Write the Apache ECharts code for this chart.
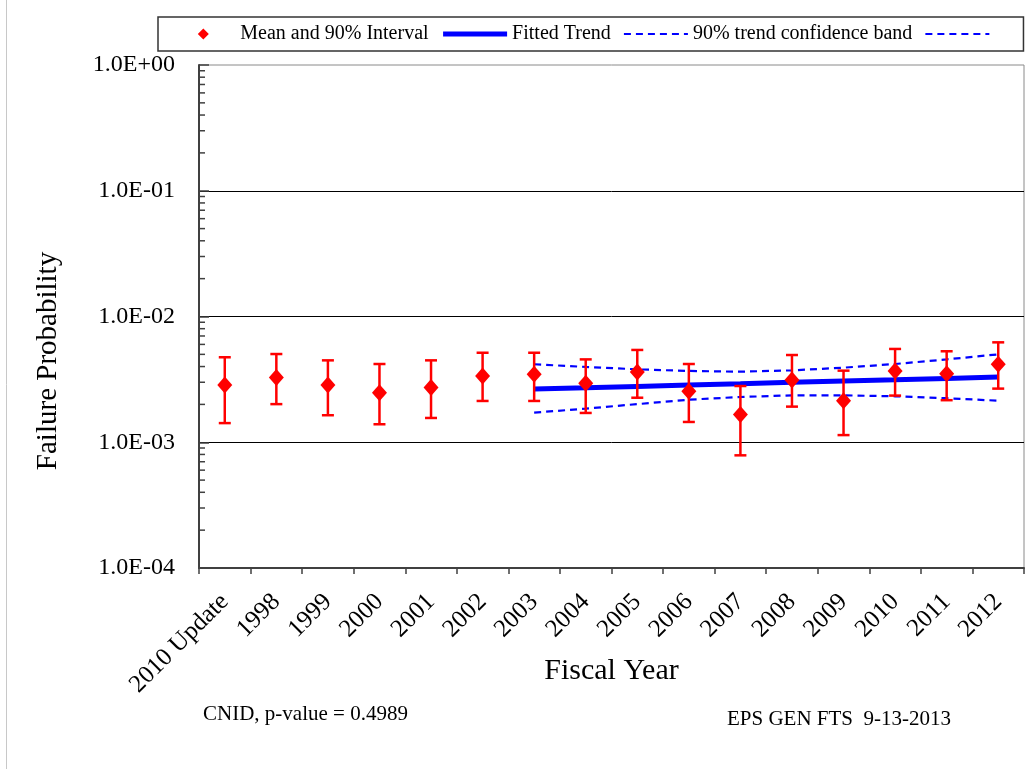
<!DOCTYPE html>
<html>
<head>
<meta charset="utf-8">
<script src="https://cdn.jsdelivr.net/npm/echarts@6/dist/echarts.min.js"></script>
<style>html,body{margin:0;padding:0;background:#fff}#chart{width:1034px;height:769px}</style>
</head>
<body>
<div id="chart"></div>
<script>
const categories = ['2010 Update','1998','1999','2000','2001','2002','2003','2004','2005','2006','2007','2008','2009','2010','2011','2012'];
const meanValues = [2.85e-3, 3.28e-3, 2.85e-3, 2.48e-3, 2.72e-3, 3.36e-3, 3.47e-3, 2.94e-3, 3.62e-3, 2.54e-3, 1.66e-3, 3.13e-3, 2.14e-3, 3.69e-3, 3.51e-3, 4.17e-3];
const lowerValues = [1.42e-3, 2.01e-3, 1.64e-3, 1.39e-3, 1.56e-3, 2.13e-3, 2.13e-3, 1.71e-3, 2.26e-3, 1.45e-3, 7.87e-4, 1.92e-3, 1.14e-3, 2.35e-3, 2.16e-3, 2.67e-3];
const upperValues = [4.74e-3, 5.03e-3, 4.48e-3, 4.19e-3, 4.48e-3, 5.15e-3, 5.15e-3, 4.56e-3, 5.42e-3, 4.19e-3, 2.80e-3, 4.94e-3, 3.71e-3, 5.52e-3, 5.29e-3, 6.23e-3];
const trendValues = [null, null, null, null, null, null, 2.65e-3, 2.71e-3, 2.78e-3, 2.85e-3, 2.92e-3, 3.00e-3, 3.07e-3, 3.14e-3, 3.22e-3, 3.30e-3];
const bandUpper = [null, null, null, null, null, null, 4.17e-3, 3.97e-3, 3.80e-3, 3.69e-3, 3.64e-3, 3.73e-3, 3.92e-3, 4.19e-3, 4.56e-3, 5.00e-3];
const bandLower = [null, null, null, null, null, null, 1.72e-3, 1.85e-3, 2.01e-3, 2.18e-3, 2.29e-3, 2.36e-3, 2.36e-3, 2.32e-3, 2.24e-3, 2.14e-3];
const yTickLabels = ['1.0E-04', '1.0E-03', '1.0E-02', '1.0E-01', '1.0E+00'];
const minorMultipliers = [2, 3, 4, 5, 6, 7, 8, 9];
const decades = [1e-4, 1e-3, 1e-2, 1e-1];

const FONT = 'Liberation Serif';
const chart = echarts.init(document.getElementById('chart'));

const errData = categories.map((c, i) => [i, lowerValues[i], upperValues[i]]);
const minorData = [];
decades.forEach(d => minorMultipliers.forEach(m => minorData.push([0, d * m])));

// legend diamond: tiny anchor specks at the corners keep the diamond from being stretched
const legendDiamond = 'path://M0,0L0.01,0L0.01,0.01Z M64,11L63.99,11L63.99,10.99Z M26,5.5L32,-0.5L38,5.5L32,11.5Z';

const option = {
  animation: false,
  backgroundColor: '#fff',
  grid: { left: 199, right: 10, top: 65, bottom: 201, show: true, borderColor: '#8a8a8a', borderWidth: 1 },
  legend: {
    left: 158, top: 17, orient: 'horizontal',
    itemWidth: 64, itemHeight: 11, itemGap: 12,
    padding: [7, 33, 7, 16],
    borderColor: '#333', borderWidth: 1.5,
    textStyle: { fontFamily: FONT, fontSize: 20, color: '#000' },
    data: [
      { name: 'Mean and 90% Interval', icon: legendDiamond, itemStyle: { color: '#ff0000', opacity: 1 } },
      { name: 'Fitted Trend', itemStyle: { opacity: 0 }, lineStyle: { width: 5, color: '#0000ff' } },
      { name: '90% trend confidence band', itemStyle: { opacity: 0 }, lineStyle: { width: 2.2, color: '#0000ff', type: [7, 5] } },
      { name: 'band_lower', itemStyle: { opacity: 0 }, lineStyle: { width: 2.2, color: '#0000ff', type: [7, 5] } }
    ],
    formatter: n => (n === 'band_lower' ? '' : n),
    selectedMode: false
  },
  xAxis: {
    type: 'category',
    data: categories,
    boundaryGap: true,
    axisLine: { lineStyle: { color: '#404040', width: 2 } },
    axisTick: { show: true, length: 6, lineStyle: { color: '#404040', width: 1.5 } },
    axisLabel: { rotate: 45, margin: 30, fontFamily: FONT, fontSize: 25, color: '#000', interval: 0 },
    name: 'Fiscal Year',
    nameLocation: 'middle',
    nameGap: 88,
    nameMoveOverlap: false,
    nameTextStyle: { fontFamily: FONT, fontSize: 30, color: '#000' }
  },
  yAxis: {
    type: 'log',
    logBase: 10,
    min: 1e-4,
    max: 1,
    axisLine: { show: true, lineStyle: { color: '#404040', width: 2 } },
    axisTick: { show: true, inside: true, length: 10, lineStyle: { color: '#404040', width: 1.5 } },
    axisLabel: {
      margin: 24, fontFamily: FONT, fontSize: 24, color: '#000',
      formatter: v => {
        const e = Math.round(Math.log10(v));
        return yTickLabels[e + 4] || '';
      }
    },
    splitLine: { show: true, showMaxLine: false, showMinLine: false, lineStyle: { color: '#000', width: 1 } }
  },
  series: [
    {
      name: 'Fitted Trend', type: 'line', data: trendValues, symbol: 'none', showSymbol: false,
      lineStyle: { color: '#0000ff', width: 5 }, itemStyle: { color: '#0000ff' }, z: 2
    },
    {
      name: '90% trend confidence band', type: 'line', data: bandUpper, symbol: 'none', showSymbol: false,
      lineStyle: { color: '#0000ff', width: 2.2, type: [7, 5] }, itemStyle: { color: '#0000ff' }, z: 2
    },
    {
      name: 'band_lower', type: 'line', data: bandLower, symbol: 'none', showSymbol: false,
      lineStyle: { color: '#0000ff', width: 2.2, type: [7, 5] }, itemStyle: { color: '#0000ff' }, z: 2
    },
    {
      name: 'errbars', type: 'custom', data: errData, z: 3,
      renderItem: (params, api) => {
        const i = api.value(0);
        const lo = api.coord([i, api.value(1)]);
        const hi = api.coord([i, api.value(2)]);
        const hw = 6;
        const st = { stroke: '#ff0000', lineWidth: 2.5 };
        return {
          type: 'group',
          children: [
            { type: 'line', shape: { x1: lo[0], y1: lo[1], x2: hi[0], y2: hi[1] }, style: st },
            { type: 'line', shape: { x1: hi[0] - hw, y1: hi[1], x2: hi[0] + hw, y2: hi[1] }, style: st },
            { type: 'line', shape: { x1: lo[0] - hw, y1: lo[1], x2: lo[0] + hw, y2: lo[1] }, style: st }
          ]
        };
      }
    },
    {
      name: 'Mean and 90% Interval', type: 'scatter', data: meanValues, symbol: 'diamond', symbolSize: [15, 17],
      itemStyle: { color: '#ff0000', opacity: 1 }, z: 4
    },
    {
      name: 'minorticks', type: 'custom', data: minorData, z: 5, silent: true,
      renderItem: (params, api) => {
        const p = api.coord([0, api.value(1)]);
        const x0 = params.coordSys.x;
        return { type: 'line', shape: { x1: x0, y1: p[1], x2: x0 + 6, y2: p[1] }, style: { stroke: '#404040', lineWidth: 1.5 } };
      }
    }
  ],
  graphic: [
    { type: 'line', shape: { x1: 6.5, y1: 0, x2: 6.5, y2: 769 }, style: { stroke: '#c8c8c8', lineWidth: 1 } },
    {
      type: 'text', x: 48, y: 361, rotation: Math.PI / 2,
      style: { text: 'Failure Probability', fontFamily: FONT, fontSize: 29, fill: '#000', textAlign: 'center', textVerticalAlign: 'middle' }
    },
    {
      type: 'text', left: 203, top: 704,
      style: { text: 'CNID, p-value = 0.4989', fontFamily: FONT, fontSize: 21, fill: '#000' }
    },
    {
      type: 'text', left: 727, top: 709,
      style: { text: 'EPS GEN FTS  9-13-2013', fontFamily: FONT, fontSize: 21, fill: '#000' }
    }
  ]
};
chart.setOption(option);
</script>
</body>
</html>
